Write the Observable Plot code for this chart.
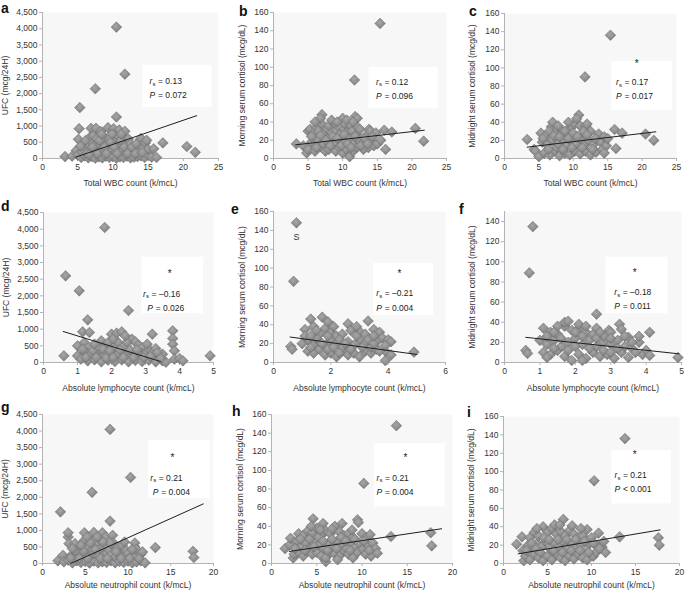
<!DOCTYPE html>
<html><head><meta charset="utf-8">
<script src="https://cdn.jsdelivr.net/npm/d3@7"></script>
<script src="https://cdn.jsdelivr.net/npm/@observablehq/plot@0.6"></script>
<style>
body{margin:0;background:#fff;font-family:"Liberation Sans",Arial,sans-serif;}
#wrap{position:relative;width:685px;height:592px;overflow:hidden;background:#fff;}
.panel{position:absolute;}
.panel svg{overflow:visible;display:block;}
.letter{position:absolute;font-weight:bold;font-size:14px;line-height:1;color:#111;font-family:"Liberation Sans",Arial,sans-serif;}
</style></head><body><div id="wrap"></div>
<script>
// ---------- data ----------
const xTitles = ["Total WBC count (k/mcL)", "Absolute lymphocyte count (k/mcL)", "Absolute neutrophil count (k/mcL)"];
const yTitles = ["UFC (mcg/24H)", "Morning serum cortisol (mcg/dL)", "Midnight serum cortisol (mcg/dL)"];
const letters = ["a","b","c","d","e","f","g","h","i"];
const rsValues = ["0.13","0.12","0.17","\u20130.16","\u20130.21","\u20130.18","0.21","0.21","0.21"];
const pValues = ["= 0.072","= 0.096","= 0.017","= 0.026","= 0.004","= 0.011","= 0.004","= 0.004","< 0.001"];

const xTicksWbc = [0,5,10,15,20,25];
const xTicksLym5 = [0,1,2,3,4,5];
const xTicksLym6 = [0,2,4,6];
const xTicksNeu = [0,5,10,15,20];
const yTicksUfc = [0,500,1000,1500,2000,2500,3000,3500,4000,4500];
const yTicks160 = [0,20,40,60,80,100,120,140,160];
const yTicks140 = [0,20,40,60,80,100,120,140];

const ptsA = [[3.2,60],[4.2,70],[4.8,250],[5.0,100],[5.1,590],[5.2,920],[5.3,1570],[5.5,30],[5.6,200],[5.9,450],
[6.0,80],[6.2,300],[6.4,400],[6.5,20],[6.7,650],[6.8,250],[6.9,930],[7.0,60],[7.0,500],[7.2,700],
[7.3,200],[7.5,10],[7.5,2150],[7.6,450],[7.6,930],[7.7,600],[7.9,300],[8.0,50],[8.2,400],[8.3,830],
[8.4,250],[8.5,20],[8.6,680],[8.7,500],[8.9,200],[9.0,70],[9.2,450],[9.3,950],[9.4,300],[9.5,30],
[9.6,620],[9.8,400],[9.9,250],[10.0,60],[10.1,920],[10.3,500],[10.4,200],[10.5,10],[10.5,1280],[10.5,4050],
[10.7,700],[10.8,450],[10.9,300],[10.9,880],[11.0,50],[11.3,400],[11.4,250],[11.5,30],[11.5,650],[11.7,840],
[11.7,2600],[11.9,200],[11.9,500],[12.0,70],[12.2,600],[12.4,300],[12.5,20],[12.5,450],[12.9,250],[13.0,40],
[13.5,60],[13.6,250],[13.9,400],[14.0,620],[14.0,80],[14.3,300],[14.5,30],[14.6,480],[14.8,560],[15.0,100],
[15.0,280],[15.5,40],[15.8,300],[16.2,30],[17.1,480],[20.5,370],[21.7,190],
[6.3,150],[7.1,350],[7.8,150],[8.1,550],[8.8,350],[9.1,150],[9.7,500],[10.2,350],[10.6,150],[11.1,550],
[11.6,350],[12.1,150],[12.7,350],[13.2,150],[6.1,550],[6.6,120],[8.4,750],[9.9,750],[11.2,750],[13.3,450],
[14.2,180],[5.4,380]];
const lineA = [[4.7,40],[21.9,1320]];

const ptsB = [[3.3,16],[4.3,14],[4.8,6],[5.0,10],[5.0,30],[5.3,32],[5.5,18],[5.8,28],[6.0,8],[6.2,34],
[6.5,20],[6.5,30],[7.0,12],[7.0,38],[7.0,48],[7.2,16],[7.2,26],[7.5,8],[7.8,32],[8.0,10],
[8.0,22],[8.0,36],[8.4,28],[8.5,18],[8.8,38],[9.0,8],[9.0,16],[9.0,30],[9.5,12],[9.5,34],
[9.6,26],[9.8,20],[10.0,6],[10.0,44],[10.2,32],[10.3,38],[10.4,18],[10.5,10],[10.6,42],[10.8,28],
[11.0,2],[11.0,22],[11.2,36],[11.4,30],[11.5,8],[11.6,16],[11.7,86],[11.8,46],[12.0,12],[12.0,26],
[12.1,44],[12.2,34],[12.3,20],[12.5,32],[13.0,10],[13.0,18],[13.5,26],[13.7,12],[13.8,32],[14.0,20],
[14.0,30],[14.5,14],[14.8,28],[15.0,16],[15.4,148],[15.5,20],[16.0,31],[16.2,10],[17.1,29],[20.5,33],[21.7,19],
[5.5,24],[6.2,12],[6.8,25],[7.6,20],[8.2,14],[8.6,24],[9.2,22],[9.8,14],[10.2,26],[10.7,16],
[11.2,12],[11.8,24],[12.6,14],[13.2,22],[13.6,16],[14.3,24],[6.8,44],[8.4,42],[9.2,40],[6.0,40],[11.5,40]];
const lineB = [[3.2,15],[21.8,31]];

const ptsC = [[3.3,21],[4.3,10],[4.5,8],[5.0,2],[5.3,28],[5.5,18],[5.8,6],[6.0,25],[6.2,15],[6.6,4],
[6.8,35],[7.0,20],[7.0,40],[7.4,8],[7.5,30],[7.6,12],[8.0,3],[8.2,32],[8.3,18],[8.8,6],
[9.0,14],[9.0,28],[9.5,4],[9.6,35],[9.7,20],[10.2,8],[10.2,38],[10.4,16],[10.8,48],[11.0,5],
[11.0,22],[11.0,36],[11.6,14],[11.7,90],[11.8,8],[11.8,36],[12.2,20],[12.5,4],[12.5,30],[13.0,16],
[13.3,7],[13.7,27],[14.0,18],[14.2,10],[14.5,24],[14.8,14],[15.0,22],[15.4,136],[16.0,32],[16.2,11],
[17.1,28],[20.5,27],[21.7,20],
[5.6,22],[6.4,10],[6.5,30],[7.2,25],[7.8,16],[8.0,24],[8.5,10],[8.8,30],[9.3,22],[9.8,12],
[10.0,28],[10.6,24],[11.3,12],[11.5,30],[12.0,26],[12.8,10],[13.2,22],[14.5,6],[9.3,40],[10.5,44],[12.0,38],[7.8,36]];
const lineC = [[3.3,12.5],[22.0,29.5]];

const ptsD = [[0.6,200],[0.65,2600],[1.0,200],[1.0,500],[1.05,2150],[1.1,100],[1.15,920],[1.2,300],[1.2,600],[1.3,50],
[1.3,1280],[1.35,900],[1.4,250],[1.4,450],[1.5,80],[1.6,300],[1.6,400],[1.7,20],[1.7,650],[1.8,220],
[1.8,4050],[1.9,70],[1.9,500],[1.9,600],[2.0,280],[2.0,850],[2.1,30],[2.1,420],[2.15,880],[2.2,250],
[2.2,600],[2.3,80],[2.3,920],[2.4,300],[2.4,450],[2.5,20],[2.5,1560],[2.6,220],[2.6,700],[2.7,60],
[2.7,620],[2.8,300],[2.8,520],[2.9,30],[2.9,450],[3.0,250],[3.1,70],[3.1,400],[3.2,280],[3.2,850],
[3.3,20],[3.3,420],[3.4,200],[3.5,50],[3.5,250],[3.6,10],[3.8,950],[3.8,720],[3.8,550],[3.85,350],
[3.85,100],[4.0,120],[4.1,50],[4.9,200],
[1.25,150],[1.45,350],[1.55,150],[1.75,400],[1.85,130],[1.95,350],[2.05,150],[2.25,380],[2.35,150],[2.45,600],
[2.55,380],[2.65,150],[2.75,380],[2.95,150],[3.05,550],[3.15,180],[3.35,300],[3.45,120],[1.15,400],[2.05,700],
[2.4,800],[1.5,550]];
const lineD = [[0.58,930],[3.44,30]];

const ptsE = [[0.6,17],[0.65,14],[0.7,86],[0.8,148],[1.0,20],[1.1,35],[1.2,12],[1.2,24],[1.3,46],[1.4,10],
[1.4,18],[1.4,38],[1.6,14],[1.6,22],[1.6,30],[1.7,48],[1.8,8],[1.8,18],[1.8,36],[1.9,43],
[2.0,10],[2.0,24],[2.0,32],[2.2,6],[2.2,20],[2.2,28],[2.4,12],[2.4,16],[2.4,30],[2.6,8],
[2.6,22],[2.6,41],[2.7,34],[2.8,10],[2.8,18],[3.0,6],[3.0,24],[3.0,33],[3.2,12],[3.2,20],
[3.2,30],[3.3,44],[3.4,10],[3.4,16],[3.5,35],[3.6,14],[3.6,22],[3.7,32],[3.8,26],[3.9,2],
[3.9,12],[4.0,24],[4.1,8],[4.1,22],[4.9,11],
[1.1,28],[1.3,16],[1.5,26],[1.7,20],[1.9,14],[1.9,28],[2.1,16],[2.3,24],[2.5,20],[2.7,14],
[2.9,28],[3.1,16],[3.3,24],[3.5,20],[3.7,12],[3.9,18],[1.5,34],[2.1,38],[2.9,38],[2.3,10],[1.3,28],[3.5,28]];
const lineE = [[0.58,27],[5.0,8.5]];
const labelE = [[0.8,133,"S"]];

const ptsF = [[0.6,12],[0.65,9],[0.7,89],[0.8,135],[1.0,22],[1.1,10],[1.1,34],[1.2,18],[1.3,8],[1.3,30],
[1.4,22],[1.5,12],[1.5,28],[1.6,16],[1.7,6],[1.7,36],[1.7,40],[1.8,20],[1.8,41],[1.9,2],
[1.9,32],[2.0,24],[2.1,8],[2.1,34],[2.1,38],[2.2,18],[2.3,4],[2.3,30],[2.4,22],[2.5,10],
[2.5,28],[2.6,16],[2.6,34],[2.6,48],[2.7,6],[2.8,20],[2.8,26],[2.9,8],[2.95,32],[3.0,18],
[3.0,30],[3.1,4],[3.2,22],[3.25,38],[3.3,10],[3.3,33],[3.4,16],[3.5,5],[3.5,25],[3.6,14],
[3.8,20],[3.8,26],[3.9,8],[4.0,12],[4.1,7],[4.1,30],[4.9,5],
[1.2,26],[1.4,14],[1.6,24],[1.8,12],[2.0,16],[2.0,30],[2.2,26],[2.4,14],[2.6,24],[2.8,12],
[3.0,24],[3.2,14],[3.4,26],[3.6,20],[3.7,10],[1.5,36],[2.3,36],[2.7,30],[1.2,5],[3.0,10],[2.2,2],[1.4,30]];
const lineF = [[0.6,25],[4.93,8.6]];

const ptsG = [[1.8,80],[2.1,1560],[2.4,250],[2.5,50],[3.0,100],[3.0,800],[3.0,930],[3.1,600],[3.5,20],[3.5,280],
[3.8,600],[4.0,80],[4.0,230],[4.3,450],[4.5,30],[4.5,300],[4.8,650],[4.9,700],[4.9,930],[5.0,60],
[5.0,250],[5.3,500],[5.5,10],[5.5,200],[5.8,400],[5.8,700],[5.8,2150],[6.0,70],[6.0,300],[6.0,940],
[6.3,600],[6.5,20],[6.5,250],[6.6,820],[6.8,450],[7.0,50],[7.0,220],[7.0,930],[7.3,520],[7.4,800],
[7.5,30],[7.5,300],[7.8,400],[7.9,1280],[7.9,4050],[8.0,80],[8.0,250],[8.2,850],[8.3,620],[8.5,20],
[8.5,200],[8.8,480],[9.0,60],[9.0,280],[9.3,550],[9.5,30],[9.5,220],[9.8,400],[10.0,70],[10.0,300],
[10.3,2600],[10.5,20],[10.5,250],[10.8,500],[10.8,620],[11.0,50],[11.0,220],[11.0,420],[11.5,80],[11.5,280],
[12.0,20],[13.2,480],[17.6,370],[17.7,180],
[3.3,160],[3.8,380],[4.3,150],[4.8,380],[5.3,150],[5.6,620],[6.2,420],[6.8,150],[7.1,650],[7.6,150],
[8.0,600],[8.6,350],[9.2,150],[9.6,650],[10.2,150],[10.5,420],[11.3,150],[11.7,350],[6.4,800],[5.2,800],
[4.5,550],[3.5,450]];
const lineG = [[3.3,0],[18.8,1800]];

const ptsH = [[1.5,16],[2.0,20],[2.1,27],[2.4,6],[2.5,10],[2.8,24],[3.0,12],[3.0,32],[3.3,18],[3.5,8],
[3.5,30],[3.8,22],[4.0,14],[4.0,35],[4.3,16],[4.5,10],[4.5,33],[4.6,48],[4.8,24],[5.0,12],
[5.0,38],[5.3,20],[5.5,8],[5.5,30],[5.7,43],[5.8,16],[6.0,2],[6.0,6],[6.0,35],[6.3,22],
[6.5,12],[6.5,32],[6.8,18],[7.0,10],[7.0,40],[7.3,24],[7.5,8],[7.5,34],[7.8,20],[7.8,43],
[8.0,14],[8.0,30],[8.3,16],[8.5,10],[8.5,32],[8.8,22],[9.0,6],[9.0,28],[9.3,18],[9.5,12],
[9.5,47],[9.6,44],[10.0,16],[10.0,32],[10.2,86],[10.4,10],[10.5,28],[10.6,20],[10.9,31],[11.0,8],
[11.2,22],[11.5,16],[11.7,11],[13.2,29],[13.8,148],[17.6,33],[17.7,19],
[2.6,16],[3.2,26],[3.7,14],[4.2,26],[4.7,18],[5.2,28],[5.7,24],[6.2,14],[6.7,26],[7.2,16],
[7.7,28],[8.2,24],[8.7,14],[9.2,26],[9.7,22],[10.2,24],[10.8,14],[4.4,40],[5.4,36],[6.7,37],[8.9,36],[7.3,4]];
const lineH = [[1.96,12.9],[18.8,37.3]];

const ptsI = [[1.5,21],[2.1,29],[2.2,14],[2.3,3],[2.5,8],[2.8,20],[3.0,4],[3.0,28],[3.3,16],[3.5,10],
[3.5,34],[3.8,22],[4.0,6],[4.0,30],[4.3,18],[4.5,3],[4.5,40],[4.8,24],[5.0,8],[5.0,34],
[5.3,16],[5.5,4],[5.5,38],[5.8,22],[6.0,10],[6.0,32],[6.3,18],[6.5,6],[6.5,35],[6.8,24],
[6.8,48],[7.0,3],[7.0,30],[7.3,16],[7.5,8],[7.5,36],[7.8,22],[7.8,41],[8.0,5],[8.0,32],
[8.3,18],[8.5,10],[8.5,28],[8.8,20],[9.0,6],[9.0,30],[9.3,16],[9.5,4],[9.5,37],[9.8,22],
[10.0,28],[10.2,8],[10.3,90],[10.5,12],[10.6,20],[10.8,33],[11.2,18],[11.6,12],[13.2,29],[13.8,136],
[17.6,28],[17.7,20],
[2.6,14],[3.2,22],[3.7,16],[4.2,12],[4.6,28],[5.2,26],[5.7,14],[6.2,26],[6.7,12],[7.2,26],
[7.7,14],[8.2,26],[8.7,14],[9.2,24],[9.7,12],[10.2,22],[10.9,16],[3.8,38],[5.8,42],[6.4,42],[8.8,38],[11.4,24]];
const lineI = [[1.67,10.5],[17.8,36.6]];

// ---------- layout (pixel frames, annotation placement in data units) ----------
const panels = [
 {pts:ptsA, line:lineA, frame:[42,12,218,158], xd:[0,25], xt:xTicksWbc, yd:[0,4500], yt:yTicksUfc, row:0, col:0,
  note:{rx:15.2, px:15.2, yr:2373, yp:1942}, box:[14.3,24.1,1570,2870], star:null, letter:[1,1]},
 {pts:ptsB, line:lineB, frame:[273,12,446,158], xd:[0,25], xt:xTicksWbc, yd:[0,160], yt:yTicks160, row:0, col:1,
  note:{rx:14.8, px:14.8, yr:84, yp:68}, box:[13.8,23.8,55,100], star:null, letter:[239,4]},
 {pts:ptsC, line:lineC, frame:[504,13,676,158], xd:[0,25], xt:xTicksWbc, yd:[0,160], yt:yTicks160, row:0, col:2,
  note:{rx:16.2, px:16.2, yr:84, yp:68.6}, box:[15.6,24.4,53,107], star:[19.2,107], letter:[469,4]},
 {pts:ptsD, line:lineD, frame:[43,212,213,362], xd:[0,5], xt:xTicksLym5, yd:[0,4500], yt:yTicksUfc, row:1, col:0,
  note:{rx:2.93, px:3.05, yr:2060, yp:1630}, box:[2.9,4.71,1460,3160], star:[3.71,2730], letter:[1,199]},
 {pts:ptsE, line:lineE, frame:[273,211,445,362], xd:[0,6], xt:xTicksLym6, yd:[0,160], yt:yTicks160, row:1, col:1,
  note:{rx:3.58, px:3.58, yr:73.4, yp:57.5}, box:[3.49,5.58,49.8,104.9], star:[4.39,96.4], letter:[231,202], labels:labelE},
 {pts:ptsF, line:lineF, frame:[504,211,681,362], xd:[0,5], xt:xTicksLym5, yd:[0,150], yt:yTicks140, row:1, col:2,
  note:{rx:3.1, px:3.1, yr:69.8, yp:55.6}, box:[2.86,4.62,48.4,104.6], star:[3.68,91.4], letter:[459,202]},
 {pts:ptsG, line:lineG, frame:[42,414,213,563], xd:[0,20], xt:xTicksNeu, yd:[0,4500], yt:yTicksUfc, row:2, col:0,
  note:{rx:12.6, px:12.9, yr:2585, yp:2150}, box:[12.4,19.6,1963,3724], star:[15.2,3263], letter:[1,400]},
 {pts:ptsH, line:lineH, frame:[271,414,452,563], xd:[0,20], xt:xTicksNeu, yd:[0,160], yt:yTicks160, row:2, col:1,
  note:{rx:11.6, px:11.6, yr:92, yp:76.6}, box:[11.4,19.2,60.5,128.7], star:[14.8,116], letter:[232,404]},
 {pts:ptsI, line:lineI, frame:[503,416,679,563], xd:[0,20], xt:xTicksNeu, yd:[0,160], yt:yTicks160, row:2, col:2,
  note:{rx:12.6, px:12.6, yr:95.7, yp:80.4}, box:[12.3,19.1,64.9,122.8], star:[14.9,121], letter:[467,405]}
];
const yTitleDx = [-37.5, -31.5, -32.5];
const xTitleDy = [24.7, 25.7, 22];

const ML = 45, MT = 15, MR = 12, MB = 35;
const wrap = document.getElementById("wrap");
const fmtY = d3.format(",");
const fmtX = d => String(d);

function defs() {
  const g = d3.create("svg:defs");
  g.html('<radialGradient id="dg" cx="0.45" cy="0.4" r="0.6"><stop offset="0" stop-color="#a6a6a6"/><stop offset="0.6" stop-color="#8f8f8f"/><stop offset="1" stop-color="#747474"/></radialGradient>');
  return g.node();
}

panels.forEach((p, i) => {
  const [L, T, R, B] = p.frame;
  const W = (R - L) + ML + MR, H = (B - T) + MT + MB;
  const pts = p.pts.map(([x, y]) => ({x, y}));
  const ln = p.line.map(([x, y]) => ({x, y}));
  const n = [p.note];
  const marks = [
    defs,
    Plot.frame({fill: "#f7f7f7", stroke: null}),
    Plot.rect([p.box], {x1: d => d[0], x2: d => d[1], y1: d => d[2], y2: d => d[3], fill: "#ffffff"}),
    Plot.ruleX([0], {stroke: "#b3b3b3"}),
    Plot.ruleY([0], {stroke: "#b3b3b3"}),
    Plot.axisX({ticks: p.xt, tickSize: 3, tickPadding: 2, tickFormat: fmtX, stroke: "#b3b3b3", fill: "#333", label: null}),
    Plot.axisY({ticks: p.yt, tickSize: 3, tickPadding: 2, tickFormat: fmtY, stroke: "#b3b3b3", fill: "#333", label: null}),
    Plot.dot(pts, {x: "x", y: "y", symbol: "diamond2", r: 4.8, fill: "url(#dg)", stroke: "#6e6e6e", strokeWidth: 0.5}),
    Plot.line(ln, {x: "x", y: "y", stroke: "#1e1e1e", strokeWidth: 1}),
    Plot.text(n, {x: "rx", y: "yr", text: () => "r", fontStyle: "italic", textAnchor: "start", fill: "#222"}),
    Plot.text(n, {x: "rx", y: "yr", text: () => "s", fontSize: 6, dx: 3, dy: 2.5, textAnchor: "start", fill: "#222"}),
    Plot.text(n, {x: "rx", y: "yr", text: () => "= " + rsValues[i], dx: 8.5, textAnchor: "start", fill: "#222"}),
    Plot.text(n, {x: "px", y: "yp", text: () => "P", fontStyle: "italic", textAnchor: "start", fill: "#222"}),
    Plot.text(n, {x: "px", y: "yp", text: () => pValues[i], dx: 8.5, textAnchor: "start", fill: "#222"}),
    Plot.text([yTitles[p.col]], {frameAnchor: "left", rotate: -90, dx: yTitleDx[p.col], textAnchor: "middle", lineAnchor: "middle", text: d => d, fill: "#333"}),
    Plot.text([xTitles[p.row]], {frameAnchor: "bottom", dy: xTitleDy[p.row], textAnchor: "middle", lineAnchor: "middle", text: d => d, fill: "#333"})
  ];
  if (p.star) marks.push(Plot.text([p.star], {x: d => d[0], y: d => d[1], text: () => "*", fontSize: 10, dy: 2, fill: "#222"}));
  if (p.labels) marks.push(Plot.text(p.labels, {x: d => d[0], y: d => d[1], text: d => d[2], fontSize: 9, fill: "#333"}));

  const svg = Plot.plot({
    width: W, height: H,
    marginLeft: ML, marginTop: MT, marginRight: MR, marginBottom: MB,
    style: {fontFamily: "'Liberation Sans', Arial, sans-serif", fontSize: "8.5px", background: "transparent", overflow: "visible"},
    x: {domain: p.xd},
    y: {domain: p.yd},
    marks
  });
  const div = document.createElement("div");
  div.className = "panel";
  div.style.left = (L - ML) + "px";
  div.style.top = (T - MT) + "px";
  div.style.width = W + "px";
  div.style.height = H + "px";
  div.appendChild(svg);
  wrap.appendChild(div);

  const lt = document.createElement("div");
  lt.className = "letter";
  lt.textContent = letters[i];
  lt.style.left = p.letter[0] + "px";
  lt.style.top = p.letter[1] + "px";
  wrap.appendChild(lt);
});
</script></body></html>
